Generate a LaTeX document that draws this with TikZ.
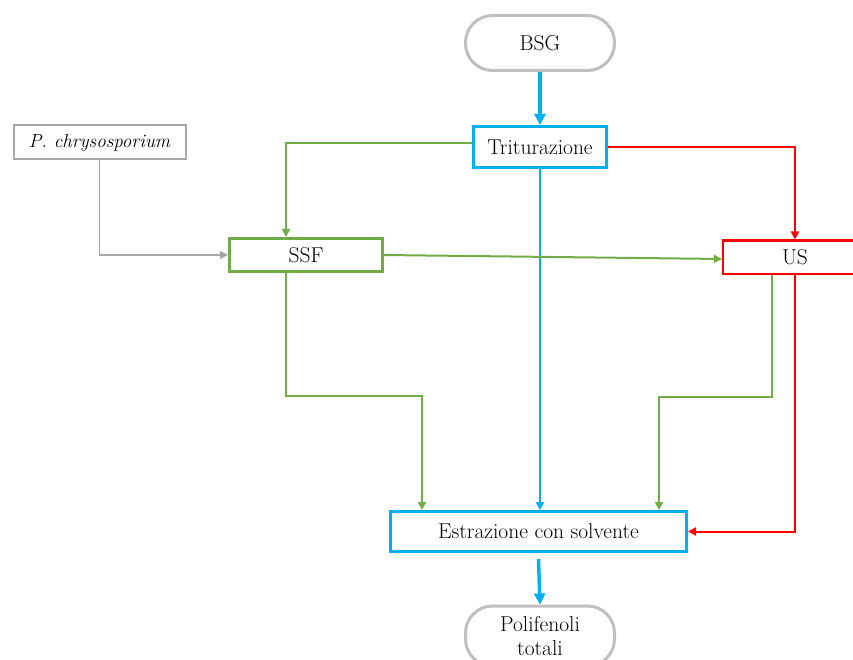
\documentclass[tikz,border=0pt]{standalone}
\usepackage{fontspec}
\setmainfont{Latin Modern Roman}
\usetikzlibrary{arrows.meta,calc}
\definecolor{cblue}{HTML}{00B0F0}
\definecolor{cgreen}{HTML}{70AD47}
\definecolor{cred}{HTML}{FF0000}
\definecolor{cgrayA}{HTML}{BFBFBF}
\definecolor{cgrayB}{HTML}{A6A6A6}
\begin{document}
\begin{tikzpicture}[x=1pt,y=-1pt,
  every node/.style={font=\fontsize{21.5}{24}\selectfont, text=black, inner sep=0pt},
  terminal/.style={draw=cgrayA, line width=3pt, rounded corners=27pt, minimum width=149pt, minimum height=55pt, align=center},
  bluebox/.style={draw=cblue, line width=3pt},
  greenbox/.style={draw=cgreen, line width=3pt},
  redbox/.style={draw=cred, line width=2pt},
  graybox/.style={draw=cgrayB, line width=2pt},
  tipS/.style={-{Triangle[length=8pt,width=8pt]}},
  tipL/.style={-{Triangle[length=11pt,width=11pt]}},
  gline/.style={draw=cgreen, line width=2pt, tipS},
  rline/.style={draw=cred, line width=2pt, tipS},
  bthin/.style={draw=cblue, line width=1.8pt, tipS},
  bthick/.style={draw=cblue, line width=3.5pt, tipL},
  grline/.style={draw=cgrayB, line width=1.6pt, tipS}
]
\useasboundingbox (0,0) rectangle (853,660);

\node[terminal] (bsg) at (540,43) {BSG};
\node[bluebox, minimum width=133pt, minimum height=41pt] (tri) at (540,147) {Triturazione};
\node[graybox, minimum width=172pt, minimum height=34pt, font=\fontsize{19}{22}\selectfont\itshape] (pc) at (99.5,142.5) {P. chrysosporium};
\node[greenbox, minimum width=153pt, minimum height=33pt] (ssf) at (306,255) {SSF};
\node[redbox, minimum width=144pt, minimum height=33pt] (us) at (795,257) {US};
\node[bluebox, minimum width=296pt, minimum height=40pt] (est) at (538.5,531.5) {Estrazione con solvente};
\node[terminal, minimum height=60pt] (pol) at (540,636) {Polifenoli\\totali};

% connectors
\path[bthick] (bsg.south) -- (tri.north);
\path[gline] ([yshift=4pt]tri.west) -| ([xshift=58pt]ssf.north west);
\path[rline] (tri.east) -| (us.north);
\path[bthin] (tri.south) -- ([xshift=1.5pt]est.north);
\path[grline] (pc.south) |- (ssf.west);
\path[gline] (ssf.east) -- ([yshift=-2pt]us.west);
\coordinate (c1) at ($([xshift=58pt]ssf.south west)+(0,123)$);
\path[gline] ([xshift=58pt]ssf.south west) -- (c1) -| ([xshift=33pt]est.north west);
\coordinate (c2) at ($([xshift=50pt]us.south west)+(0,122)$);
\path[gline] ([xshift=50pt]us.south west) -- (c2) -| ([xshift=270pt]est.north west);
\path[rline] (us.south) |- (est.east);
\path[bthick] ([yshift=-6pt]est.south) -- (pol.north);
\end{tikzpicture}
\end{document}
